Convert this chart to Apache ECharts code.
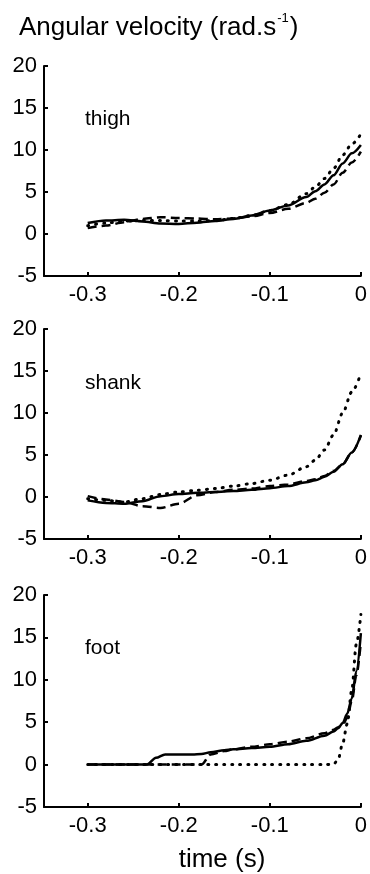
<!DOCTYPE html>
<html>
<head>
<meta charset="utf-8">
<script src="https://cdn.jsdelivr.net/npm/echarts@6/dist/echarts.min.js"></script>
<style>
  html, body { margin: 0; padding: 0; background: #fff; }
  #chart { width: 370px; height: 874px; }
</style>
</head>
<body>
<div id="chart"></div>
<script>
// time grid (s) shared by thigh and shank
const time = [-0.3, -0.28, -0.26, -0.24, -0.22, -0.2, -0.18, -0.16, -0.14, -0.12, -0.1, -0.08, -0.06, -0.05, -0.04, -0.03, -0.02, -0.01, 0];

// thigh
const thighSolid  = [1.3, 1.6, 1.7, 1.5, 1.25, 1.2, 1.35, 1.55, 1.8, 2.2, 2.8, 3.4, 4.4, 5.1, 5.9, 7.0, 8.4, 9.6, 10.6];
const thighDashed = [0.7, 1.0, 1.4, 1.8, 2.0, 1.9, 1.85, 1.75, 1.85, 2.1, 2.5, 3.0, 3.7, 4.2, 4.9, 5.9, 7.3, 8.5, 9.8];
const thighDotted = [1.0, 1.3, 1.55, 1.6, 1.6, 1.55, 1.55, 1.6, 1.85, 2.2, 2.8, 3.5, 4.8, 5.6, 6.6, 7.8, 9.4, 10.7, 11.9];

// shank
const shankSolid  = [-0.4, -0.7, -0.8, -0.5, 0.1, 0.35, 0.5, 0.6, 0.7, 0.85, 1.05, 1.3, 1.75, 2.0, 2.4, 3.0, 3.9, 5.3, 7.4];
const shankDashed = [0.1, -0.3, -0.6, -1.1, -1.3, -0.8, 0.2, 0.6, 0.85, 1.0, 1.3, 1.5, 1.9, 2.1, 2.5, 3.1, 3.9, 5.3, 7.3];
const shankDotted = [-0.2, -0.4, -0.6, -0.2, 0.3, 0.6, 0.8, 1.0, 1.3, 1.6, 2.0, 2.6, 3.6, 4.4, 5.6, 7.4, 10.0, 12.5, 14.7];

// foot
const footTime   = [-0.3, -0.25, -0.235, -0.225, -0.215, -0.2, -0.185, -0.175, -0.165, -0.15, -0.14, -0.12, -0.1, -0.08, -0.06, -0.04, -0.03, -0.025, -0.02, -0.015, -0.01, -0.005, 0];
const footSolid  = [0, 0, 0, 0.8, 1.2, 1.2, 1.2, 1.25, 1.45, 1.7, 1.8, 1.95, 2.1, 2.4, 2.8, 3.4, 3.9, 4.3, 4.9, 6.0, 7.8, 11.0, 15.5];
const footDashed = [0, 0, 0, 0, 0, 0, 0, 0, 1.2, 1.6, 1.8, 2.1, 2.4, 2.7, 3.1, 3.7, 4.1, 4.4, 4.7, 5.5, 7.5, 10.5, 14.5];
const footDotted = [0, 0, 0, 0, 0, 0, 0, 0, 0, 0, 0, 0, 0, 0, 0, 0, 0.05, 0.6, 2.5, 4.8, 8.8, 14.2, 17.7];

const xTicks = [-0.3, -0.2, -0.1, 0];
const panelNames = ["thigh", "shank", "foot"];

const font = "Liberation Sans, Arial, sans-serif";
const pairs = (t, v) => t.map((x, i) => [x, v[i]]);

const grids = [
  { left: 44, right: 8, top: 66, height: 210 },
  { left: 44, right: 8, top: 329, height: 210 },
  { left: 44, right: 8, top: 595, height: 212 },
];

const xAxes = grids.map((g, i) => ({
  type: "value",
  gridIndex: i,
  min: -0.348,
  max: 0,
  splitLine: { show: false },
  axisLine: { show: true, onZero: false, lineStyle: { color: "#000", width: 2 } },
  axisTick: { show: true, inside: true, length: 4, customValues: xTicks, lineStyle: { color: "#000", width: 2 } },
  axisLabel: {
    customValues: xTicks,
    margin: 8,
    fontSize: 22,
    color: "#000",
    fontFamily: font,
    formatter: (v) => (v === 0 ? "0" : v.toFixed(1)),
  },
}));

const yAxes = grids.map((g, i) => ({
  type: "value",
  gridIndex: i,
  min: -5,
  max: 20,
  interval: 5,
  splitLine: { show: false },
  axisLine: { show: true, onZero: false, lineStyle: { color: "#000", width: 2 } },
  axisTick: { show: true, inside: true, length: 4, lineStyle: { color: "#000", width: 2 } },
  axisLabel: { margin: 7, fontSize: 22, color: "#000", fontFamily: font },
}));

function line(idx, t, v, kind) {
  const styles = {
    solid: { type: "solid", width: 2.5 },
    dashed: { type: [9, 5], width: 2.5 },
    dotted: { type: [1, 7], width: 3, cap: "round" },
  };
  return {
    type: "line",
    xAxisIndex: idx,
    yAxisIndex: idx,
    data: pairs(t, v),
    showSymbol: false,
    symbol: "none",
    smooth: 0.3,
    smoothMonotone: "x",
    silent: true,
    lineStyle: Object.assign({ color: "#000" }, styles[kind]),
  };
}

const series = [
  line(0, time, thighSolid, "solid"),
  line(0, time, thighDashed, "dashed"),
  line(0, time, thighDotted, "dotted"),
  line(1, time, shankSolid, "solid"),
  line(1, time, shankDashed, "dashed"),
  line(1, time, shankDotted, "dotted"),
  line(2, footTime, footSolid, "solid"),
  line(2, footTime, footDashed, "dashed"),
  line(2, footTime, footDotted, "dotted"),
];

const labelTops = [104, 368, 633];

const chart = echarts.init(document.getElementById("chart"), null, { renderer: "canvas" });
chart.setOption({
  animation: false,
  backgroundColor: "#fff",
  title: [
    {
      text: "{a|Angular velocity (rad.s}{s|-1}{a|)}",
      left: 14,
      top: 7,
      textStyle: {
        fontWeight: "normal",
        rich: {
          a: { fontSize: 26, fontWeight: "normal", color: "#000", fontFamily: font, lineHeight: 31 },
          s: { fontSize: 13, fontWeight: "normal", color: "#000", fontFamily: font, verticalAlign: "top", lineHeight: 31, padding: [0, 1, 14, 1] },
        },
      },
    },
    {
      text: "time (s)",
      left: 217,
      top: 842,
      textAlign: "center",
      textStyle: { fontSize: 26, fontWeight: "normal", color: "#000", fontFamily: font },
    },
  ].concat(panelNames.map((n, i) => ({
    text: n,
    left: 80,
    top: labelTops[i],
    textStyle: { fontSize: 21, fontWeight: "normal", color: "#000", fontFamily: font },
  }))),
  grid: grids,
  xAxis: xAxes,
  yAxis: yAxes,
  series: series,
});
</script>
</body>
</html>
